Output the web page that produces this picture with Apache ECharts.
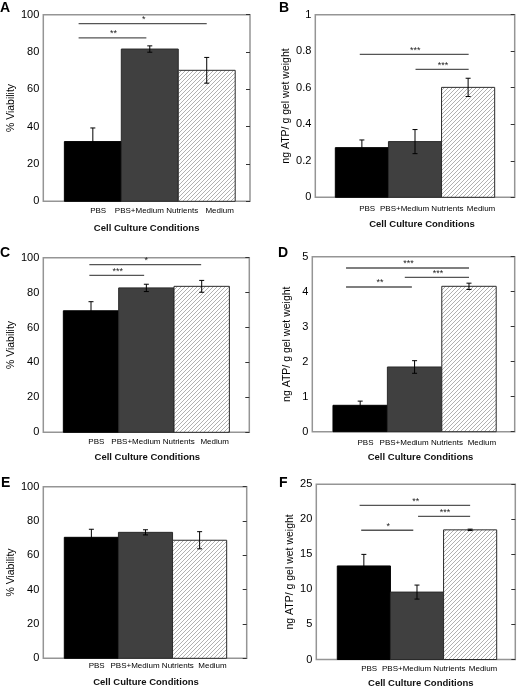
<!DOCTYPE html>
<html><head><meta charset="utf-8">
<script src="https://cdn.jsdelivr.net/npm/echarts@6/dist/echarts.min.js"></script>
<style>html,body{margin:0;padding:0;background:#fff}#c{width:517px;height:689px}</style>
</head><body><div id="c"></div>
<script>
// ---------- data ----------
const categories = ['PBS', 'PBS+Medium Nutrients', 'Medium'];
const xName = 'Cell Culture Conditions';
const yNameViability = '% Viability';
const yNameATP = 'ng ATP/ g gel wet weight';

const valuesA = [32.0, 81.6, 70.2];
const errorsA = [7.3, 1.7, 6.9];
const sigA = [[0.75, 1.94, 87.6, '**'], [0.75, 3.0, 95.2, '*']];

const valuesB = [0.272, 0.305, 0.602];
const errorsB = [0.042, 0.066, 0.050];
const sigB = [[0.96, 3.01, 0.783, '***'], [2.01, 3.01, 0.701, '***']];

const valuesC = [69.6, 82.7, 83.6];
const errorsC = [5.2, 2.1, 3.4];
const sigC = [[0.97, 1.96, 89.9, '***'], [0.97, 2.99, 96.0, '*']];

const valuesD = [0.754, 1.849, 4.154];
const errorsD = [0.12, 0.18, 0.09];
const sigD = [[0.74, 3.0, 4.677, '***'], [1.82, 3.0, 4.41, '***'], [0.74, 1.95, 4.134, '**']];

const valuesE = [70.5, 73.4, 68.8];
const errorsE = [4.7, 1.5, 5.0];
const sigE = [];

const valuesF = [13.35, 9.62, 18.5];
const errorsF = [1.65, 1.0, 0.1];
const sigF = [[0.92, 3.0, 21.98, '**'], [2.02, 3.0, 20.42, '***'], [0.95, 1.93, 18.44, '*']];

// ---------- layout / style ----------
const FONT = 'Liberation Sans, Arial, Helvetica, sans-serif';
const labelShiftPx = [5.3, 6.7, 12.9];
const panels = [
  {letter:'A', lx:0, ly:1, values:valuesA, errors:errorsA, sig:sigA, yName:yNameViability, yMax:100, yInt:20,
   g:{left:43.3, top:14.7, width:206.7, height:186.6}, xMin:0.13, xMax:3.76, labMargin:5, nameGap:22, yNameGap:25, nameShift:0},
  {letter:'B', lx:279, ly:1, values:valuesB, errors:errorsB, sig:sigB, yName:yNameATP, yMax:1, yInt:0.2,
   g:{left:315.3, top:14.7, width:199.4, height:182.6}, xMin:0.123, xMax:3.877, labMargin:7.5, nameGap:22, yNameGap:20, nameShift:14},
  {letter:'C', lx:0, ly:246, values:valuesC, errors:errorsC, sig:sigC, yName:yNameViability, yMax:100, yInt:20,
   g:{left:43.3, top:257.7, width:206, height:174.6}, xMin:0.138, xMax:3.86, labMargin:5, nameGap:20, yNameGap:26, nameShift:2},
  {letter:'D', lx:278, ly:246, values:valuesD, errors:errorsD, sig:sigD, yName:yNameATP, yMax:5, yInt:1,
   g:{left:312.3, top:256.7, width:202.4, height:175}, xMin:0.12, xMax:3.84, labMargin:7, nameGap:20.5, yNameGap:19.5, nameShift:14},
  {letter:'E', lx:1, ly:476, values:valuesE, errors:errorsE, sig:sigE, yName:yNameViability, yMax:100, yInt:20,
   g:{left:43.3, top:486.7, width:203.4, height:171.6}, xMin:0.112, xMax:3.87, labMargin:3.5, nameGap:19.5, yNameGap:24.5, nameShift:2},
  {letter:'F', lx:279, ly:476, values:valuesF, errors:errorsF, sig:sigF, yName:yNameATP, yMax:25, yInt:5,
   g:{left:316.3, top:484.3, width:199, height:176.7}, xMin:0.105, xMax:3.85, labMargin:5.5, nameGap:18.5, yNameGap:21, nameShift:10}
];

function makeHatch() {
  const c = document.createElement('canvas');
  c.width = 8; c.height = 8;
  const g = c.getContext('2d');
  g.fillStyle = '#ffffff'; g.fillRect(0, 0, 8, 8);
  g.strokeStyle = '#a8a8a8'; g.lineWidth = 0.9;
  g.beginPath();
  for (let k = -8; k <= 16; k += 4) { g.moveTo(k, 8); g.lineTo(k + 8, 0); }
  g.stroke();
  return c;
}
const hatch = makeHatch();
const barFills = ['#000000', '#404040', {image: hatch, repeat: 'repeat'}];
const barStrokes = ['#000000', '#2a2a2a', '#2a2a2a'];

const grid = [], xAxis = [], yAxis = [], series = [], graphic = [];

panels.forEach((p, pi) => {
  grid.push(Object.assign({show:true, borderColor:'#959595', borderWidth:1.5, backgroundColor:'transparent'}, p.g));
  const unit = p.g.width / (p.xMax - p.xMin);
  const labelVals = categories.map((c, i) => i + 1 + labelShiftPx[i] / unit);
  xAxis.push({
    type:'value', gridIndex:pi, min:p.xMin, max:p.xMax,
    axisLine:{show:false}, axisTick:{show:false}, splitLine:{show:false},
    axisLabel:{customValues:labelVals, formatter:(v) => categories[Math.round(v) - 1] || '',
      fontSize:8, color:'#000', margin:p.labMargin, fontFamily:FONT},
    name:xName, nameLocation:'middle', nameGap:p.nameGap,
    nameTextStyle:{fontSize:9.5, fontWeight:'bold', color:'#111', fontFamily:FONT, padding:[0,0,0,p.nameShift]}
  });
  yAxis.push({
    type:'value', gridIndex:pi, min:0, max:p.yMax, interval:p.yInt,
    axisLine:{show:false}, axisTick:{show:false}, splitLine:{show:false},
    axisLabel:{fontSize:11, color:'#000', margin:4, fontFamily:FONT},
    name:p.yName, nameLocation:'middle', nameGap:p.yNameGap, nameRotate:90,
    nameTextStyle:{fontSize:10.5, color:'#000', fontFamily:FONT}
  });
  yAxis.push({
    type:'value', gridIndex:pi, position:'right', min:0, max:p.yMax, interval:p.yInt,
    axisLine:{show:false}, splitLine:{show:false}, axisLabel:{show:false},
    axisTick:{show:true, inside:true, length:4, lineStyle:{color:'#333', width:1}}
  });
  const xi = pi, yi = pi * 2;
  // bars
  series.push({
    type:'custom', xAxisIndex:xi, yAxisIndex:yi, encode:{x:0, y:1},
    data:p.values.map((v, i) => [i + 1, v]),
    renderItem:(params, api) => {
      const i = api.value(0), v = api.value(1);
      const a = api.coord([i - 0.5, v]), b = api.coord([i + 0.5, 0]);
      const k = params.dataIndex;
      return {type:'rect', shape:{x:a[0], y:a[1], width:b[0] - a[0], height:b[1] - a[1]},
        style:{fill:barFills[k], stroke:barStrokes[k], lineWidth:1}};
    }
  });
  // error bars
  series.push({
    type:'custom', xAxisIndex:xi, yAxisIndex:yi, encode:{x:0, y:[1]}, z:3,
    data:p.values.map((v, i) => [i + 1, v, p.errors[i]]),
    renderItem:(params, api) => {
      const x = api.value(0), v = api.value(1), e = api.value(2);
      const hi = api.coord([x, v + e]), lo = api.coord([x, v - e]);
      const st = {stroke:'#000', lineWidth:1};
      return {type:'group', children:[
        {type:'line', shape:{x1:hi[0], y1:hi[1], x2:lo[0], y2:lo[1]}, style:st},
        {type:'line', shape:{x1:hi[0] - 2.5, y1:hi[1], x2:hi[0] + 2.5, y2:hi[1]}, style:st},
        {type:'line', shape:{x1:lo[0] - 2.5, y1:lo[1], x2:lo[0] + 2.5, y2:lo[1]}, style:st}
      ]};
    }
  });
  // significance bars
  if (p.sig.length) {
    series.push({
      type:'custom', xAxisIndex:xi, yAxisIndex:yi, encode:{x:[0, 1], y:2}, z:3,
      data:p.sig.map(s => [s[0], s[1], s[2]]),
      renderItem:(params, api) => {
        const a = api.coord([api.value(0), api.value(2)]), b = api.coord([api.value(1), api.value(2)]);
        return {type:'group', children:[
          {type:'line', shape:{x1:a[0], y1:a[1], x2:b[0], y2:b[1]}, style:{stroke:'#555', lineWidth:1.3}},
          {type:'text', style:{text:p.sig[params.dataIndex][3], x:(a[0] + b[0]) / 2 + 1, y:a[1] + 0.5,
            align:'center', verticalAlign:'bottom', fontSize:9, fill:'#222', fontFamily:FONT}}
        ]};
      }
    });
  }
  graphic.push({type:'text', left:p.lx, top:p.ly,
    style:{text:p.letter, fontSize:14, fontWeight:'bold', fill:'#000', fontFamily:FONT}});
});

const chart = echarts.init(document.getElementById('c'));
chart.setOption({
  animation:false, backgroundColor:'#fff',
  textStyle:{fontFamily:FONT},
  grid, xAxis, yAxis, series, graphic
});
</script></body></html>
